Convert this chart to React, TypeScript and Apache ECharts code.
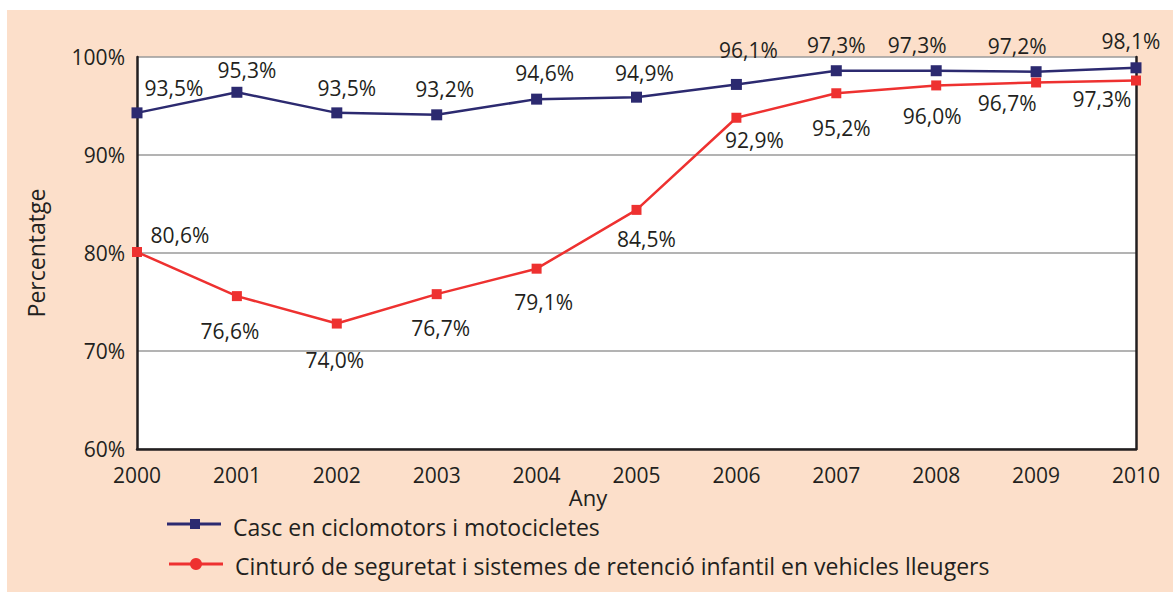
import React, { useEffect, useRef } from "react";
import * as echarts from "echarts";

const years = ["2000", "2001", "2002", "2003", "2004", "2005", "2006", "2007", "2008", "2009", "2010"];
// values as plotted in the picture (marker positions)
const cascValues = [94.3, 96.4, 94.3, 94.1, 95.7, 95.9, 97.2, 98.6, 98.6, 98.5, 98.9];
const cinturoValues = [80.1, 75.6, 72.8, 75.8, 78.4, 84.4, 93.8, 96.3, 97.1, 97.4, 97.6];
// value labels as printed
const cascLabels = ["93,5%", "95,3%", "93,5%", "93,2%", "94,6%", "94,9%", "96,1%", "97,3%", "97,3%", "97,2%", "98,1%"];
const cinturoLabels = ["80,6%", "76,6%", "74,0%", "76,7%", "79,1%", "84,5%", "92,9%", "95,2%", "96,0%", "96,7%", "97,3%"];
const yTicks = [60, 70, 80, 90, 100];

const seriesNames = [
  "Casc en ciclomotors i motocicletes",
  "Cinturó de seguretat i sistemes de retenció infantil en vehicles lleugers",
];

// label offsets (styling)
const cascOffsets = [[37, -25], [10, -22], [10, -25], [8, -26], [8, -26], [8, -24], [12, -34], [0, -26], [-19, -26], [-19, -26], [-5, -27]];
const cinturoOffsets = [[43, -17], [-7, 35], [-2, 36], [4, 34], [7, 33], [10, 29], [18, 22], [5, 35], [-4, 31], [-29, 21], [-34, 18]];

const FONT = "'Open Sans', 'Noto Sans', sans-serif";
const TXT = "#231f20";
const BLUE = "#2c2a70";
const RED = "#ee3130";
const PEACH = "#fcdfca";

export default function App() {
  const ref = useRef<HTMLDivElement>(null);
  useEffect(() => {
    if (!ref.current) return;
    const chart = echarts.init(ref.current, null, { renderer: "svg" });
    const mkData = (vals: number[], labels: string[], offs: number[][]) =>
      vals.map((v, i) => ({
        value: v,
        label: { formatter: labels[i], offset: offs[i] },
      }));
    chart.setOption({
      animation: false,
      backgroundColor: "#ffffff",
      graphic: [
        { type: "rect", z: -10, shape: { x: 7, y: 10, width: 1166, height: 582 }, style: { fill: PEACH } },
        { type: "line", shape: { x1: 167, y1: 524, x2: 221, y2: 524 }, style: { stroke: BLUE, lineWidth: 3 } },
        { type: "rect", shape: { x: 190, y: 519, width: 10, height: 10 }, style: { fill: BLUE } },
        {
          type: "text", x: 233, y: 527,
          style: { text: seriesNames[0], fill: TXT, fontSize: 23, fontFamily: FONT, verticalAlign: "middle", lineHeight: 23 },
        },
        { type: "line", shape: { x1: 169, y1: 564, x2: 223, y2: 564 }, style: { stroke: RED, lineWidth: 3 } },
        { type: "circle", shape: { cx: 196, cy: 564, r: 6 }, style: { fill: RED } },
        {
          type: "text", x: 235, y: 566,
          style: { text: seriesNames[1], fill: TXT, fontSize: 23, fontFamily: FONT, verticalAlign: "middle", lineHeight: 23 },
        },
        {
          type: "text", x: 588, y: 497,
          style: { text: "Any", fill: TXT, fontSize: 22, fontFamily: FONT, align: "center", verticalAlign: "middle", lineHeight: 20 },
        },
      ],
      grid: {
        left: 137, right: 37, top: 57, bottom: 143,
        show: true, backgroundColor: "#ffffff", borderWidth: 0,
      },
      xAxis: {
        type: "category",
        data: years,
        boundaryGap: false,
        axisLine: { show: true, lineStyle: { color: "#231f20", width: 2.5 } },
        axisTick: { show: false },
        axisLabel: { color: TXT, fontSize: 21, fontFamily: FONT, margin: 15 },
        splitLine: { show: false },
      },
      yAxis: [
        {
          type: "value",
          min: yTicks[0],
          max: yTicks[yTicks.length - 1],
          interval: 10,
          name: "Percentatge",
          nameLocation: "middle",
          nameGap: 90,
          nameTextStyle: { color: TXT, fontSize: 23, fontFamily: FONT },
          axisLine: { show: true, lineStyle: { color: "#231f20", width: 2.5 } },
          axisTick: { show: false },
          axisLabel: { color: TXT, fontSize: 21, fontFamily: FONT, margin: 12, formatter: "{value}%" },
          splitLine: { show: true, lineStyle: { color: "#9a9a9a", width: 1.5 } },
        },
        {
          type: "value",
          position: "right",
          min: yTicks[0],
          max: yTicks[yTicks.length - 1],
          interval: 10,
          axisLine: { show: true, lineStyle: { color: "#231f20", width: 2.5 } },
          axisTick: { show: false },
          axisLabel: { show: false },
          splitLine: { show: false },
        },
      ],
      series: [
        {
          name: seriesNames[0],
          type: "line",
          data: mkData(cascValues, cascLabels, cascOffsets),
          symbol: "rect",
          symbolSize: 11,
          lineStyle: { color: BLUE, width: 2.5 },
          itemStyle: { color: BLUE },
          label: { show: true, position: "inside", color: TXT, fontSize: 21, fontFamily: FONT },
          z: 3,
        },
        {
          name: seriesNames[1],
          type: "line",
          data: mkData(cinturoValues, cinturoLabels, cinturoOffsets),
          symbol: "rect",
          symbolSize: 10,
          lineStyle: { color: RED, width: 2.5 },
          itemStyle: { color: RED },
          label: { show: true, position: "inside", color: TXT, fontSize: 21, fontFamily: FONT },
          z: 2,
        },
      ],
    });
    return () => chart.dispose();
  }, []);
  return (
    <div
      ref={ref}
      style={{ position: "absolute", left: 0, top: 0, width: 1173, height: 592 }}
    />
  );
}
